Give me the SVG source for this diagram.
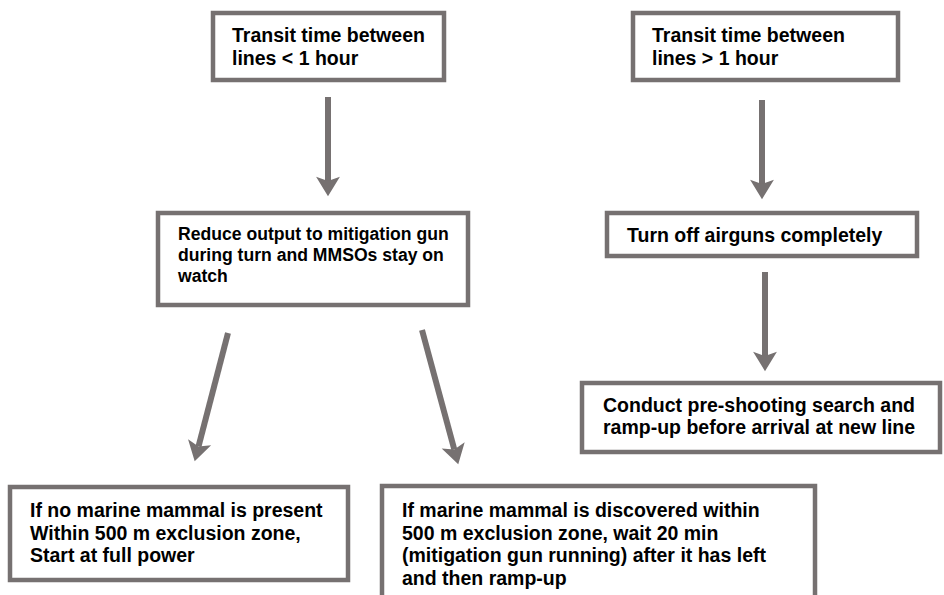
<svg xmlns="http://www.w3.org/2000/svg" width="944" height="595" viewBox="0 0 944 595">
  <style>
    .box { fill: #ffffff; stroke: #767171; stroke-width: 4.5; }
    .lbl { font-family: "Liberation Sans", Arial, sans-serif; font-weight: bold; font-size: 19.5px; fill: #000000; }
    .sm { font-size: 17.6px; }
    .arr { stroke: #767171; stroke-width: 6; fill: none; marker-end: url(#head); }
  </style>
  <defs>
    <marker id="head" markerUnits="userSpaceOnUse" markerWidth="24" markerHeight="26" viewBox="-5 -12 20 24" refX="0" refY="0" orient="auto">
      <path d="M14,0 L-4,-11 L0,0 L-4,11 Z" fill="#767171"/>
    </marker>
  </defs>

  <rect width="944" height="595" fill="#ffffff"/>

  <g id="connectors">
    <line class="arr" x1="328" y1="97" x2="328" y2="181"/>
    <line class="arr" x1="762" y1="100" x2="762" y2="184"/>
    <line class="arr" x1="765" y1="272" x2="765" y2="356"/>
    <line class="arr" x1="228" y1="333" x2="198.5" y2="446.5"/>
    <line class="arr" x1="422" y1="330" x2="454.3" y2="449.5"/>
  </g>

  <g id="transit-short">
    <rect class="box" x="213" y="13" width="231" height="67"/>
    <text class="lbl" x="232" y="42">Transit time between</text>
    <text class="lbl" x="232" y="65">lines &lt; 1 hour</text>
  </g>

  <g id="transit-long">
    <rect class="box" x="633" y="13" width="265" height="67"/>
    <text class="lbl" x="652" y="42">Transit time between</text>
    <text class="lbl" x="652" y="65">lines &gt; 1 hour</text>
  </g>

  <g id="reduce-output">
    <rect class="box" x="158" y="213" width="310" height="92"/>
    <text class="lbl sm" x="178" y="240">Reduce output to mitigation gun</text>
    <text class="lbl sm" x="178" y="261">during turn and MMSOs stay on</text>
    <text class="lbl sm" x="178" y="282">watch</text>
  </g>

  <g id="turn-off">
    <rect class="box" x="607" y="213" width="310" height="43"/>
    <text class="lbl" x="627" y="242">Turn off airguns completely</text>
  </g>

  <g id="pre-shooting">
    <rect class="box" x="582" y="383" width="358" height="69"/>
    <text class="lbl" x="603" y="412">Conduct pre-shooting search and</text>
    <text class="lbl" x="603" y="434">ramp-up before arrival at new line</text>
  </g>

  <g id="no-mammal">
    <rect class="box" x="10" y="487" width="338" height="93"/>
    <text class="lbl" x="30" y="517">If no marine mammal is present</text>
    <text class="lbl" x="30" y="540">Within 500 m exclusion zone,</text>
    <text class="lbl" x="30" y="562">Start at full power</text>
  </g>

  <g id="mammal-found">
    <rect class="box" x="382" y="486" width="433" height="130"/>
    <text class="lbl" x="402" y="517">If marine mammal is discovered within</text>
    <text class="lbl" x="402" y="540">500 m exclusion zone, wait 20 min</text>
    <text class="lbl" x="402" y="562">(mitigation gun running) after it has left</text>
    <text class="lbl" x="402" y="585">and then ramp-up</text>
  </g>
</svg>
